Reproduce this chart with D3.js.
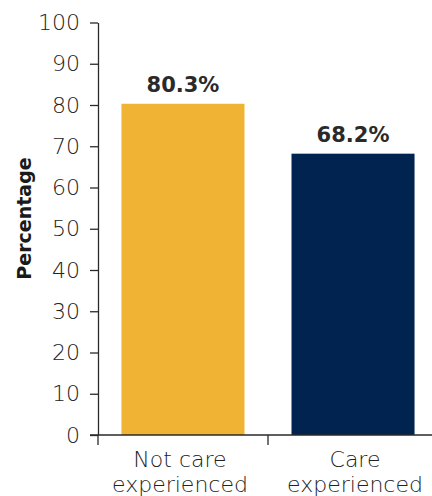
<!DOCTYPE html>
<html><head><meta charset="utf-8">
<script src="https://cdn.jsdelivr.net/npm/d3@7"></script>
<style>
html,body{margin:0;padding:0;background:#fff;}
svg{display:block;font-family:"DejaVu Sans",sans-serif;}
</style></head>
<body>
<script>
const categories = [["Not care", "experienced"], ["Care", "experienced"]];
const categoryKeys = ["Not care experienced", "Care experienced"];
const values = [80.3, 68.2];
const colors = ["#F0B334", "#00234F"];
const yTicks = [0, 10, 20, 30, 40, 50, 60, 70, 80, 90, 100];
const yTitle = "Percentage";

const W = 432, H = 496;
const svg = d3.select("body").append("svg").attr("width", W).attr("height", H);
const text = "#2a2a2a";
const font = "'DejaVu Sans', sans-serif";

const y = d3.scaleLinear().domain([0, 100]).range([435, 22.5]);
const x = d3.scaleBand().domain(categoryKeys).range([98, 438]).paddingInner(0.2765).paddingOuter(0.138);

// y axis
const yAxis = svg.append("g").attr("transform", "translate(98,0)")
  .call(d3.axisLeft(y).tickValues(yTicks).tickSize(8).tickPadding(10).tickSizeOuter(0));
yAxis.select(".domain").attr("stroke", text).attr("stroke-width", 1.3);
yAxis.selectAll(".tick line").attr("stroke", text).attr("stroke-width", 1.3);
yAxis.selectAll(".tick text").attr("fill", "#222").attr("font-size", 22).attr("font-weight", 300)
  .attr("font-family", font);

// bars
svg.selectAll("rect.bar").data(values).enter().append("rect")
  .attr("class", "bar")
  .attr("x", (d, i) => x(categoryKeys[i]))
  .attr("width", x.bandwidth())
  .attr("y", d => y(d))
  .attr("height", d => y(0) - y(d))
  .attr("fill", (d, i) => colors[i]);

// x axis line and ticks at band boundaries
svg.append("line").attr("x1", 90).attr("x2", 432).attr("y1", y(0)).attr("y2", y(0))
  .attr("stroke", text).attr("stroke-width", 1.3);
const bounds = categoryKeys.map(k => x(k) - x.step() * x.paddingInner() / 2);
bounds[0] = 98;
svg.selectAll("line.xt").data(bounds).enter().append("line")
  .attr("class", "xt")
  .attr("x1", d => d).attr("x2", d => d)
  .attr("y1", y(0)).attr("y2", y(0) + 10)
  .attr("stroke", text).attr("stroke-width", 1.3);

// category labels
categories.forEach((lines, i) => {
  const t = svg.append("text")
    .attr("x", x(categoryKeys[i]) + x.bandwidth() / 2)
    .attr("y", 467)
    .attr("text-anchor", "middle")
    .attr("fill", "#222").attr("font-size", 22).attr("font-weight", 300);
  lines.forEach((l, j) => t.append("tspan")
    .attr("x", x(categoryKeys[i]) + x.bandwidth() / 2 + (i === 0 ? -3 : 2))
    .attr("dy", j === 0 ? 0 : 25).text(l));
});

// value labels
svg.selectAll("text.val").data(values).enter().append("text")
  .attr("class", "val")
  .attr("x", (d, i) => x(categoryKeys[i]) + x.bandwidth() / 2)
  .attr("y", d => y(d) - 12)
  .attr("text-anchor", "middle")
  .attr("fill", text).attr("font-size", 21).attr("font-weight", 700)
  .text(d => d.toFixed(1) + "%");

// y title
svg.append("text")
  .attr("transform", "translate(31," + ((160 + 277) / 2) + ") rotate(-90)")
  .attr("text-anchor", "middle")
  .attr("fill", "#1a1a1a").attr("font-size", 19).attr("font-weight", 700)
  .text(yTitle);
</script>
</body></html>
